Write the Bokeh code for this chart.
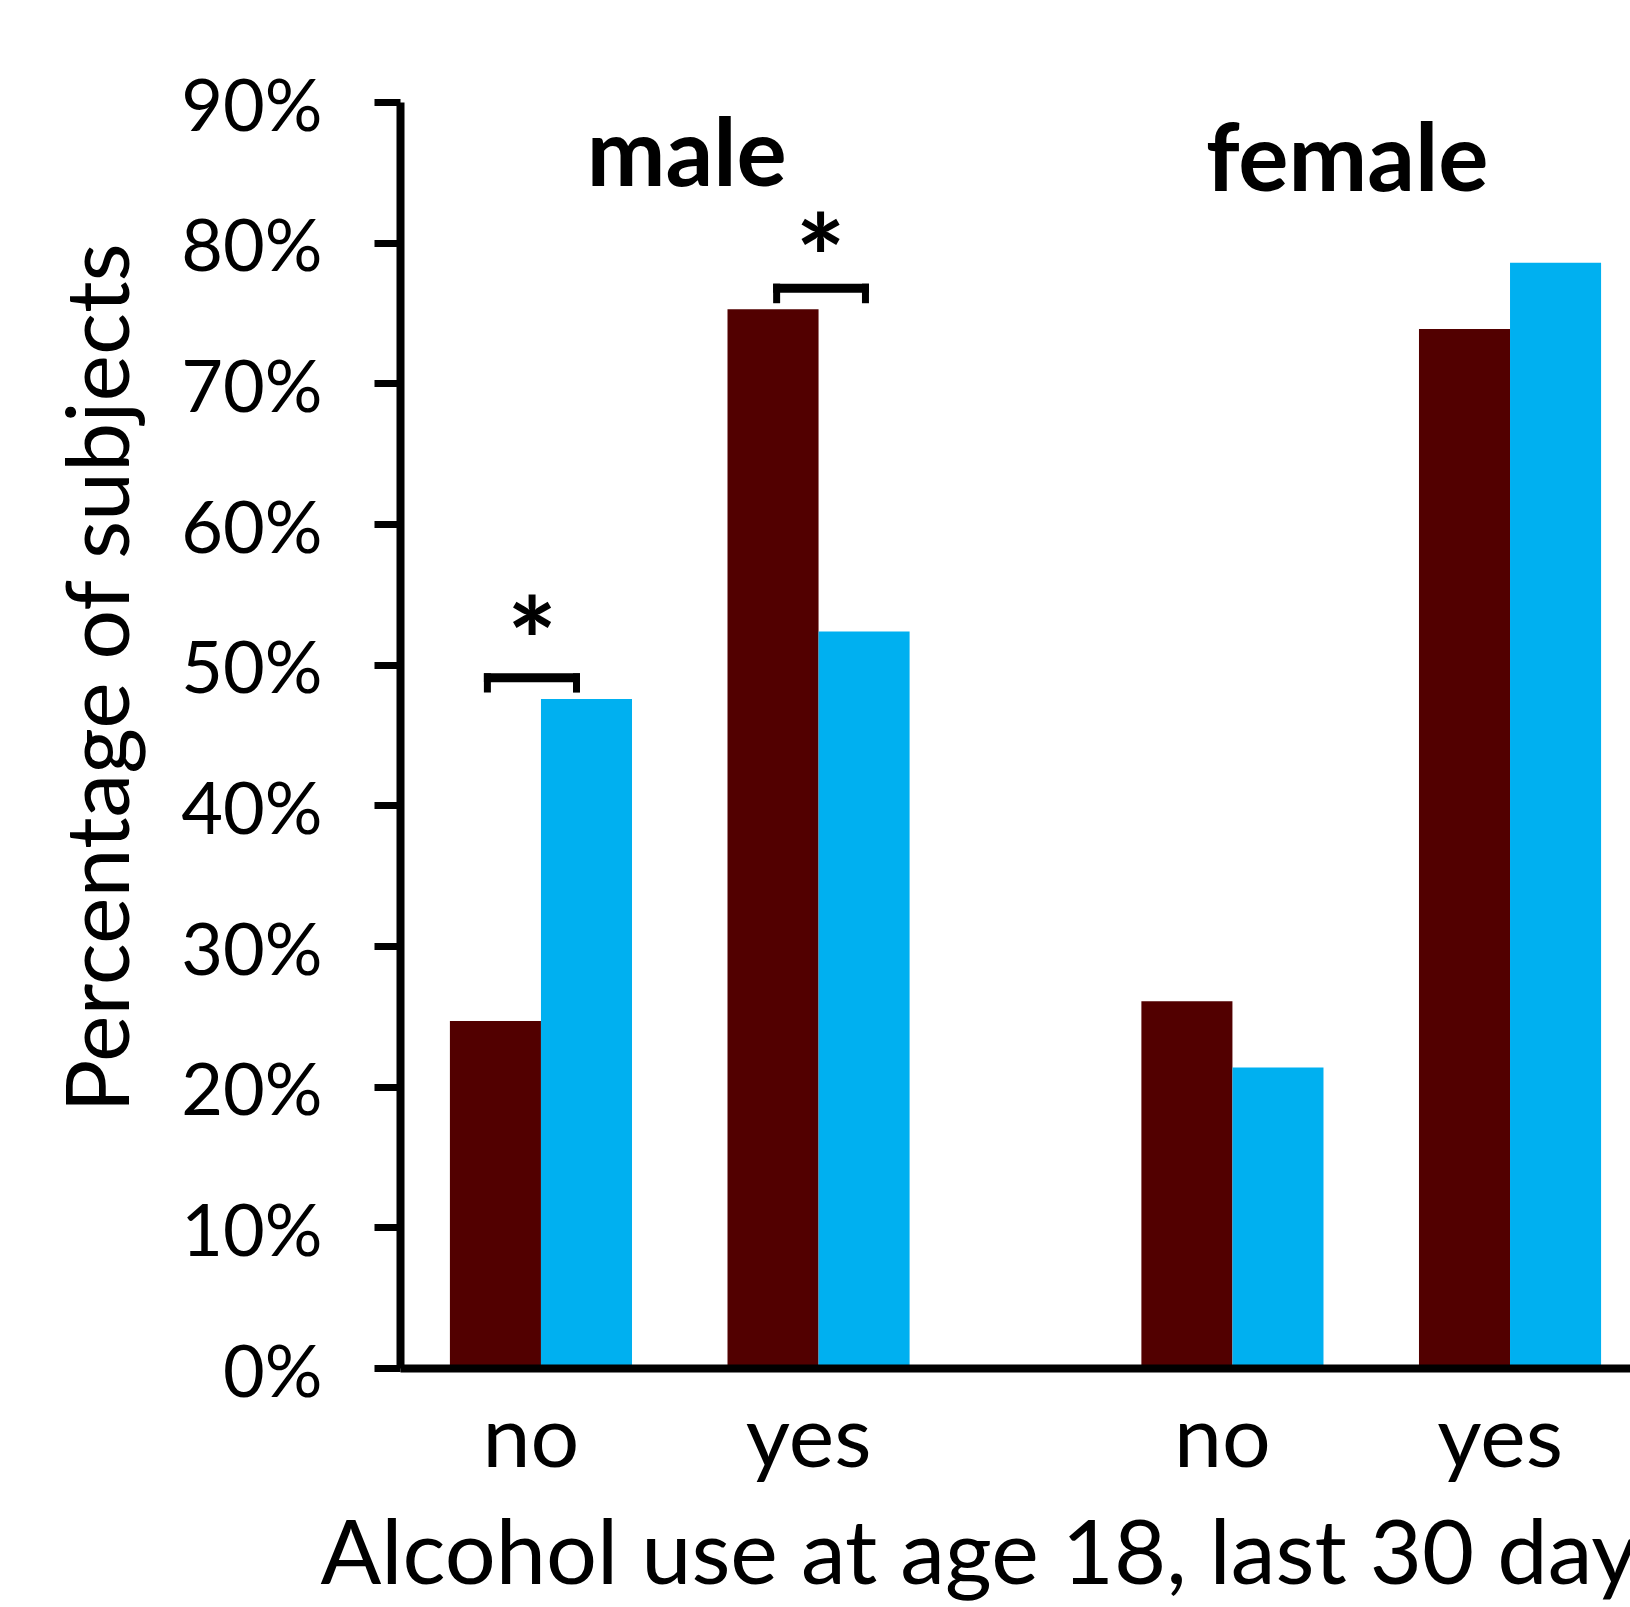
from bokeh.plotting import figure
from bokeh.models import FactorRange, ColumnDataSource, Range1d, FixedTicker, Title
from bokeh.transform import dodge
from bokeh.core.properties import value
from bokeh.embed import file_html
from bokeh.resources import INLINE

# ---- data ----
sexes = ["male", "female"]
answers = ["no", "yes"]
dark_values = [24.7, 75.3, 26.1, 73.9]   # dark maroon series (%)
blue_values = [47.6, 52.4, 21.4, 78.6]   # light blue series (%)
y_ticks = [0, 10, 20, 30, 40, 50, 60, 70, 80, 90]
y_tick_labels = ["0%", "10%", "20%", "30%", "40%", "50%", "60%", "70%", "80%", "90%"]
sig_sex = ["male", "male"]
sig_answer = ["no", "yes"]
x_label = "Alcohol use at age 18, last 30 days"
y_label = "Percentage of subjects"

# ---- annotation placement (style) ----
SIG_BRACKET_Y = [49.1, 76.8]
SIG_LEG_Y = [48.05, 75.73]
SIG_STAR_Y = [53.4, 80.6]
SIG_BRACKET_DX = [(-0.193, 0.128), (-0.151, 0.169)]
SIG_STAR_DX = [-0.032, 0.007]
GROUP_LABEL_Y = [84.1, 83.75]
GROUP_LABEL_DX = [17, -14]
BAR_HALF_THICK = 0.32     # half thickness of the bracket top, in % units
LEG_HALF_W = 0.0126       # half width of the bracket legs, in category units

FONT = "Lato"
DARK = "#520000"
BLUE = "#00B0F0"
SHIFT = 0.036     # bars sit slightly right of the category label centres
BW = 0.328

factors = [(s, a) for s in sexes for a in answers]

x_range = FactorRange(factors=factors, factor_padding=0.0, group_padding=0.491,
                      range_padding=-0.030, range_padding_units="absolute")

p = figure(width=1630, height=1607, x_range=x_range, y_range=Range1d(0, 90),
           output_backend="svg", toolbar_location=None,
           min_border_left=400, min_border_right=0, min_border_top=102,
           min_border_bottom=237)
p.outline_line_color = None
p.xgrid.visible = False
p.ygrid.visible = False
p.background_fill_color = "white"
p.border_fill_color = "white"

src = ColumnDataSource(dict(x=factors, dark=dark_values, blue=blue_values))
p.vbar(x=dodge("x", SHIFT - BW / 2, range=p.x_range), top="dark", width=BW, bottom=0,
       source=src, fill_color=DARK, line_color=None)
p.vbar(x=dodge("x", SHIFT + BW / 2, range=p.x_range), top="blue", width=BW, bottom=0,
       source=src, fill_color=BLUE, line_color=None)

# y axis
yax = p.yaxis[0]
yax.ticker = FixedTicker(ticks=y_ticks)
yax.major_label_overrides = {t: l for t, l in zip(y_ticks, y_tick_labels)}
yax.axis_line_width = 8
yax.axis_line_color = "black"
yax.major_tick_line_width = 7
yax.major_tick_line_color = "black"
yax.major_tick_out = 26
yax.major_tick_in = 0
yax.minor_tick_line_color = None
yax.major_label_text_font = FONT
yax.major_label_text_font_size = "72px"
yax.major_label_text_color = "black"
yax.major_label_standoff = 52

# x axis
xax = p.xaxis[0]
xax.axis_line_width = 8
xax.axis_line_color = "black"
xax.major_tick_line_color = None
xax.major_tick_out = 0
xax.major_tick_in = 0
xax.minor_tick_line_color = None
xax.major_label_text_font = FONT
xax.major_label_text_font_size = "86px"
xax.major_label_text_color = "black"
xax.major_label_standoff = 13
xax.major_label_orientation = "horizontal"
xax.group_text_color = None
xax.group_text_font_size = "1px"
xax.separator_line_color = None

# axis titles
p.add_layout(Title(text=y_label, align="left", offset=256, standoff=62,
                   text_font=FONT, text_font_size="88px", text_font_style="normal",
                   text_color="black"), "left")
p.add_layout(Title(text=x_label, align="left", offset=-80, standoff=10,
                   text_font=FONT, text_font_size="90px", text_font_style="normal",
                   text_color="black"), "below")

# group labels (male / female)
p.text(x=sexes, y=GROUP_LABEL_Y, text=sexes, x_offset=GROUP_LABEL_DX, y_offset=-36,
       text_font=value(FONT), text_font_style="bold", text_font_size="94px",
       text_align="center", text_baseline="alphabetic", text_color="black")

# significance brackets and stars
for i in range(len(sig_sex)):
    s = ColumnDataSource(dict(cat=[(sig_sex[i], sig_answer[i])],
                              bar_lo=[SIG_BRACKET_Y[i] - BAR_HALF_THICK],
                              bar_hi=[SIG_BRACKET_Y[i] + BAR_HALF_THICK],
                              leg=[SIG_LEG_Y[i]], star=[SIG_STAR_Y[i]], mark=["*"]))
    l_off, r_off = SIG_BRACKET_DX[i]
    # top bar
    p.quad(left=dodge("cat", SHIFT + l_off - LEG_HALF_W, range=p.x_range),
           right=dodge("cat", SHIFT + r_off + LEG_HALF_W, range=p.x_range),
           bottom="bar_lo", top="bar_hi", source=s, fill_color="black", line_color=None)
    # legs
    for off in (l_off, r_off):
        p.quad(left=dodge("cat", SHIFT + off - LEG_HALF_W, range=p.x_range),
               right=dodge("cat", SHIFT + off + LEG_HALF_W, range=p.x_range),
               bottom="leg", top="bar_hi", source=s, fill_color="black", line_color=None)
    p.text(x=dodge("cat", SHIFT + SIG_STAR_DX[i], range=p.x_range), y="star", text="mark",
           source=s, text_font=value(FONT), text_font_style="bold", text_font_size="118px",
           text_align="center", text_baseline="alphabetic", y_offset=22, text_color="black")

open("out.html", "w").write(file_html(p, INLINE))
